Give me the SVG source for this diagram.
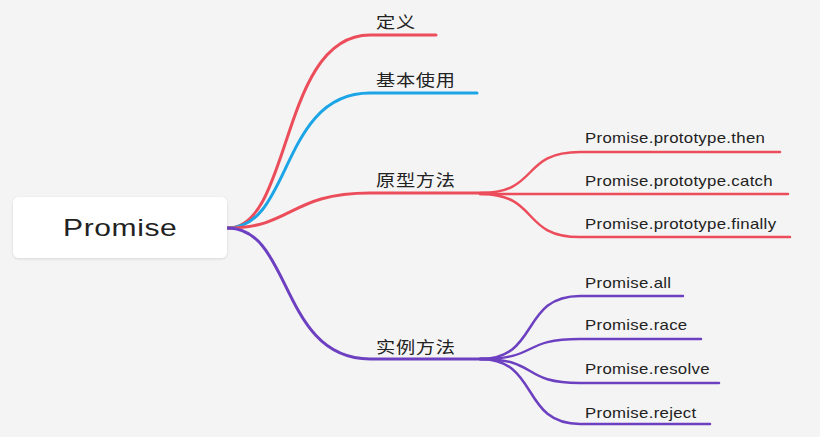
<svg xmlns="http://www.w3.org/2000/svg" width="820" height="437" viewBox="0 0 820 437">
<style>
.bg{fill:#f4f4f4}
.root{fill:#ffffff;filter:url(#sh)}
.rt{font-family:"Liberation Sans",Arial,sans-serif;font-size:24px;fill:#222;letter-spacing:0.5px}
.cn{font-family:"Noto Sans CJK SC",sans-serif;font-size:16px;fill:#222;letter-spacing:0.6px}
.en{font-family:"Liberation Sans",Arial,sans-serif;font-size:14px;fill:#222;letter-spacing:0.25px}
.l{fill:none;stroke-width:3;stroke-linecap:round}
.s{fill:none;stroke-width:2.5;stroke-linecap:round}
.red{stroke:#ec4d5b}
.blue{stroke:#1ca5e6}
.pur{stroke:#6c40c0}
</style>
<defs>
<filter id="sh" x="-10%" y="-20%" width="120%" height="150%">
<feDropShadow dx="0" dy="1" stdDeviation="1.5" flood-color="#000" flood-opacity="0.12"/>
</filter>
</defs>
<rect class="bg" x="0" y="0" width="820" height="437"/>
<g id="connectors">
<path class="l red" d="M228,228 C292,228 280,35 370,35 L436,35"/>
<path class="l blue" d="M228,228 C292,228 280,93 370,93 L477,93"/>
<path class="l red" d="M228,228 C292,228 290,193 370,193 L490,193"/>
<path class="l pur" d="M228,228 C292,228 280,359 370,359 L490,359"/>
<path class="s red" d="M480,193 C540,193 520,152 580,152 L780,152"/>
<path class="s red" d="M480,194 L788,194"/>
<path class="s red" d="M480,194 C540,194 520,237 580,237 L790,237"/>
<path class="s pur" d="M480,359 C540,359 520,296 580,296 L683,296"/>
<path class="s pur" d="M480,359 C540,359 520,339 580,339 L701,339"/>
<path class="s pur" d="M480,359 C540,359 520,383 580,383 L719,383"/>
<path class="s pur" d="M480,359 C540,359 520,424 580,424 L710,424"/>
</g>
<g id="root">
<rect class="root" x="13" y="197" width="214" height="61" rx="6"/>
<text class="rt" transform="translate(63,236) scale(1.25,1)">Promise</text>
</g>
<g id="n-dingyi"><text class="cn" transform="translate(376,28) scale(1.2,1)">定义</text></g>
<g id="n-jiben"><text class="cn" transform="translate(376,86) scale(1.2,1)">基本使用</text></g>
<g id="n-yuanxing"><text class="cn" transform="translate(376,186) scale(1.2,1)">原型方法</text></g>
<g id="n-shili"><text class="cn" transform="translate(376,353) scale(1.2,1)">实例方法</text></g>
<g id="n-then"><text class="en" transform="translate(585,143) scale(1.2,1)">Promise.prototype.then</text></g>
<g id="n-catch"><text class="en" transform="translate(585,186) scale(1.2,1)">Promise.prototype.catch</text></g>
<g id="n-finally"><text class="en" transform="translate(585,229) scale(1.2,1)">Promise.prototype.finally</text></g>
<g id="n-all"><text class="en" transform="translate(585,288) scale(1.2,1)">Promise.all</text></g>
<g id="n-race"><text class="en" transform="translate(585,330) scale(1.2,1)">Promise.race</text></g>
<g id="n-resolve"><text class="en" transform="translate(585,374) scale(1.2,1)">Promise.resolve</text></g>
<g id="n-reject"><text class="en" transform="translate(585,418) scale(1.2,1)">Promise.reject</text></g>
</svg>
